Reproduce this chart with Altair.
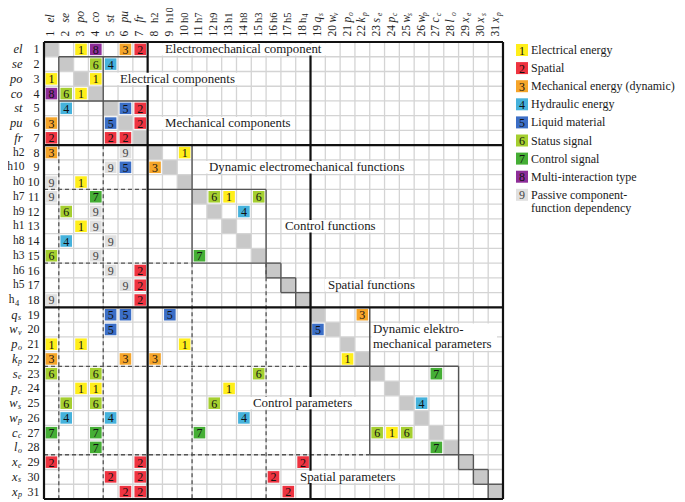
import altair as alt
import pandas as pd

# ---------------- data ----------------
row_main = ["el", "se", "po", "co", "st", "pu", "fr",
            "h2", "h10", "h0", "h7", "h9", "h1", "h8", "h3", "h6", "h5", "h",
            "q", "w", "p", "k", "s", "p", "w", "w", "c", "l", "x", "x", "x"]
row_sub = ["", "", "", "", "", "", "",
           "", "", "", "", "", "", "", "", "", "", "4",
           "s", "v", "o", "p", "e", "c", "s", "p", "c", "o", "e", "s", "p"]
row_italic = [True] * 7 + [False] * 11 + [True] * 13

cell_row = [1, 1, 1, 1, 2, 2, 3, 3, 4, 4, 4, 5, 5, 5, 6, 6, 6, 7, 7, 7,
            8, 8, 8, 9, 9, 9, 10, 10, 11, 11, 11, 11, 11, 12, 12, 12, 13, 13,
            14, 14, 15, 15, 15, 16, 16, 17, 17, 18, 18,
            19, 19, 19, 19, 20, 20, 21, 21, 21, 22, 22, 22, 22,
            23, 23, 23, 23, 24, 24, 24, 25, 25, 25, 25, 26, 26, 26,
            27, 27, 27, 27, 27, 27, 28, 28, 29, 29, 29, 30, 30, 30, 31, 31, 31]
cell_col = [3, 4, 6, 7, 4, 5, 1, 4, 1, 2, 3, 2, 6, 7, 1, 5, 7, 1, 5, 6,
            1, 6, 10, 5, 6, 8, 1, 3, 1, 4, 12, 13, 15, 2, 4, 14, 3, 4,
            2, 5, 1, 4, 11, 5, 7, 6, 7, 1, 7,
            5, 6, 9, 22, 5, 19, 1, 3, 10, 1, 6, 8, 21,
            1, 4, 15, 27, 3, 4, 13, 2, 4, 12, 26, 2, 5, 14,
            1, 4, 11, 23, 24, 25, 4, 27, 1, 7, 18, 5, 7, 16, 6, 7, 17]
cell_type = [1, 8, 3, 2, 6, 4, 1, 1, 8, 6, 1, 4, 5, 2, 3, 5, 2, 2, 2, 2,
             3, 9, 1, 9, 5, 3, 9, 1, 9, 7, 6, 1, 6, 6, 9, 4, 1, 9,
             4, 9, 6, 9, 7, 9, 2, 9, 2, 9, 2,
             5, 5, 5, 3, 5, 5, 1, 1, 1, 3, 3, 3, 1,
             6, 6, 6, 7, 1, 1, 1, 6, 6, 6, 4, 4, 4, 4,
             7, 7, 7, 6, 1, 6, 7, 7, 2, 2, 2, 2, 2, 2, 2, 2, 2]

type_codes = [1, 2, 3, 4, 5, 6, 7, 8, 9]
type_names = ["Electrical energy", "Spatial", "Mechanical energy (dynamic)",
              "Hydraulic energy", "Liquid material", "Status signal",
              "Control signal", "Multi-interaction type", "Passive  component-"]
type_names_line2 = ["", "", "", "", "", "", "", "", "function dependency"]
type_colors = ["#FFEE1A", "#EE3340", "#F5A52A", "#45B2DC", "#3B6EC6",
               "#A5CF30", "#45AE35", "#8E2D99", "#E0E0E0"]

block_labels = ["Electromechanical component", "Electrical components",
                "Mechanical components", "Dynamic electromechanical functions",
                "Control functions", "Spatial functions", "Dynamic elektro-",
                "mechanical parameters", "Control parameters", "Spatial parameters"]

# ---------------- layout helpers ----------------
N = 31
W, H = 459, 457
ux, uy = W / N, H / N
GX0, GY0 = 44, 42  # page position of grid origin
TOTAL_W = 669


def X(page_x):
    return (page_x - GX0) / ux + 0.5


def Y(page_y):
    return (page_y - GY0) / uy + 0.5


xs = alt.Scale(domain=[0.5, N + 0.5], nice=False, zero=False)
ys = alt.Scale(domain=[0.5, N + 0.5], nice=False, zero=False, reverse=True)
SERIF = "Liberation Serif"

diag_df = pd.DataFrame({"k": list(range(1, N + 1))})
diag_df["x1"] = diag_df.k - 0.5
diag_df["x2"] = diag_df.k + 0.5

gl = []
for b in range(N + 1):
    gl.append(dict(x=b + 0.5, x2=b + 0.5, y=0.5, y2=N + 0.5))
    gl.append(dict(x=0.5, x2=N + 0.5, y=b + 0.5, y2=b + 0.5))
grid_df = pd.DataFrame(gl)


def V(b, r1, r2):
    return dict(x=b + 0.5, x2=b + 0.5, y=r1 - 0.5, y2=r2 + 0.5)


def Hs(b, c1, c2):
    return dict(x=c1 - 0.5, x2=c2 + 0.5, y=b + 0.5, y2=b + 0.5)


thick_df = pd.DataFrame([V(0, 1, 31), V(7, 1, 31), V(18, 1, 31), V(31, 1, 31),
                         Hs(0, 1, 31), Hs(7, 1, 31), Hs(18, 1, 31), Hs(31, 1, 31)])
box = [V(1, 2, 7), V(4, 2, 7), Hs(1, 2, 7), Hs(4, 2, 7),
       V(10, 8, 10), Hs(10, 8, 10),
       V(10, 11, 15), V(15, 11, 15), Hs(10, 11, 15), Hs(15, 11, 15),
       V(22, 19, 22), Hs(22, 19, 22),
       V(22, 23, 28), V(28, 23, 28), Hs(22, 23, 28), Hs(28, 23, 28)]
for k in [16, 17, 18, 29, 30, 31]:
    box += [V(k - 1, k, k), V(k, k, k), Hs(k - 1, k, k), Hs(k, k, k)]
box_df = pd.DataFrame(box)
dash_df = pd.DataFrame([V(1, 8, 31), V(4, 8, 31), V(10, 16, 31), V(15, 16, 31),
                        Hs(10, 1, 7), Hs(15, 1, 10), Hs(22, 1, 18), Hs(28, 1, 22)])

cells = pd.DataFrame({"r": cell_row, "c": cell_col, "t": cell_type})
cmap = dict(zip(type_codes, type_colors))
cells["fill"] = cells.t.map(cmap)
cells["tc"] = cells.t.map(lambda v: "#444444" if v == 9 else "#111111")
cells["x1"] = cells.c - 0.5
cells["x2"] = cells.c + 0.5
cells["y1"] = cells.r - 0.5
cells["y2"] = cells.r + 0.5
cells["lab"] = cells.t.astype(str)

ann_left = [165, 120, 165, 209, 285, 328, 373, 373, 253, 300]
ann_row = [1, 3, 6, 9, 13, 17, 20, 21, 25, 30]
ann_df = pd.DataFrame({"label": block_labels, "x": [X(v) for v in ann_left], "y": ann_row})
bg_df = pd.DataFrame({
    "x1": [X(v) for v in [160, 117, 161, 206, 282, 325, 371.5, 250, 297]],
    "x2": [X(v) for v in [326, 239, 293, 408, 381, 421, 497, 358, 403]],
    "y1": [0.58, 2.58, 5.58, 8.58, 12.58, 16.58, 19.6, 24.58, 29.58],
    "y2": [1.42, 3.42, 6.42, 9.42, 13.42, 17.42, 21.45, 25.42, 30.42],
})

rows = pd.DataFrame({"r": list(range(1, N + 1)), "main": row_main, "sub": row_sub,
                     "it": row_italic})
rows["num"] = rows.r.astype(str)
rows_it_plain = rows[(rows["sub"] == "") & rows["it"]]
rows_ro_plain = rows[(rows["sub"] == "") & ~rows["it"]]
rows_it_sub = rows[(rows["sub"] != "") & rows["it"]]
rows_ro_sub = rows[(rows["sub"] != "") & ~rows["it"]]

leg_df = pd.DataFrame({"code": [str(v) for v in type_codes], "name": type_names,
                       "fill": type_colors})
leg_df["yc"] = [Y(50 + i * 18.1) for i in range(9)]
leg_df["x1"] = X(516)
leg_df["x2"] = X(528)
leg_df["xc"] = X(522)
leg_df["xt"] = X(531)
leg_df["y1"] = leg_df.yc - 6 / uy
leg_df["y2"] = leg_df.yc + 6 / uy
leg_df["tc"] = ["#444444" if v == 9 else "#111111" for v in type_codes]
leg2_df = pd.DataFrame({"name": [t for t in type_names_line2 if t],
                        "xt": [X(531)], "yc": [Y(50 + 8 * 18.1 + 13.3)]})


def enc_rect(ch):
    return ch.encode(x=alt.X("x1:Q", scale=xs, axis=None), x2="x2:Q",
                     y=alt.Y("y1:Q", scale=ys, axis=None), y2="y2:Q")


def enc_rule(ch):
    return ch.encode(x=alt.X("x:Q", scale=xs, axis=None), x2="x2:Q",
                     y=alt.Y("y:Q", scale=ys, axis=None), y2="y2:Q")


diag_l = alt.Chart(diag_df).mark_rect(color="#C8C8C8").encode(
    x=alt.X("x1:Q", scale=xs, axis=None), x2="x2:Q",
    y=alt.Y("x1:Q", scale=ys, axis=None), y2="x2:Q")
grid_l = enc_rule(alt.Chart(grid_df).mark_rule(color="#D4D4D4", strokeWidth=1.3))
cell_l = enc_rect(alt.Chart(cells).mark_rect(xOffset=1.6, x2Offset=-1.6,
                                             yOffset=1.6, y2Offset=-1.6)).encode(
    fill=alt.Fill("fill:N", scale=None))
cell_t = alt.Chart(cells).mark_text(font=SERIF, fontSize=12, baseline="middle",
                                    dy=0.5).encode(
    x=alt.X("c:Q", scale=xs, axis=None), y=alt.Y("r:Q", scale=ys, axis=None),
    text="lab:N", color=alt.Color("tc:N", scale=None))
dash_l = enc_rule(alt.Chart(dash_df).mark_rule(color="#555555", strokeWidth=1.3,
                                               strokeDash=[4, 3]))
box_l = enc_rule(alt.Chart(box_df).mark_rule(color="#555555", strokeWidth=1.4))
thick_l = enc_rule(alt.Chart(thick_df).mark_rule(color="#111111", strokeWidth=2.2))
bg_l = enc_rect(alt.Chart(bg_df).mark_rect(color="white"))
ann_t = alt.Chart(ann_df).mark_text(font=SERIF, fontSize=12.9, align="left",
                                    baseline="middle", color="#1a1a1a").encode(
    x=alt.X("x:Q", scale=xs, axis=None), y=alt.Y("y:Q", scale=ys, axis=None),
    text="label:N")


def row_text(df, field, xpx, align, italic, size=12.5, dy=0, color="#222222"):
    return alt.Chart(df).mark_text(font=SERIF, fontSize=size, align=align,
                                   baseline="middle", dy=dy, color=color,
                                   fontStyle="italic" if italic else "normal").encode(
        x=alt.value(xpx), y=alt.Y("r:Q", scale=ys, axis=None), text=f"{field}:N")


row_layers = [
    row_text(rows, "num", -4.5, "right", False, 12),
    row_text(rows_it_plain, "main", -21.5, "right", True, 12.5),
    row_text(rows_ro_plain, "main", -19.5, "right", False, 11.5),
    row_text(rows_it_sub, "main", -26.5, "right", True, 12.5),
    row_text(rows_it_sub, "sub", -26, "left", True, 8, 3.5),
    row_text(rows_ro_sub, "main", -29.5, "right", False, 11.5),
    row_text(rows_ro_sub, "sub", -29, "left", False, 8.5, 3.5),
]


def col_text(df, field, ypx, italic, size=12, dx=0, dy=0):
    return alt.Chart(df).mark_text(font=SERIF, fontSize=size, align="left",
                                   baseline="middle", angle=270, dx=dx, dy=dy,
                                   color="#222222",
                                   fontStyle="italic" if italic else "normal").encode(
        x=alt.X("r:Q", scale=xs, axis=None), y=alt.value(ypx), text=f"{field}:N")


col_layers = [
    col_text(rows, "num", -5.5, False, 11.5),
    col_text(rows_it_plain, "main", -19.5, True, 11.5),
    col_text(rows_ro_plain, "main", -19, False, 10.5),
    col_text(rows_it_sub, "main", -19.5, True, 11.5),
    col_text(rows_it_sub, "sub", -19.5, True, 7.5, 6.5, 3),
    col_text(rows_ro_sub, "main", -19, False, 10.5),
    col_text(rows_ro_sub, "sub", -19, False, 8, 5.5, 3),
]

leg_rect = enc_rect(alt.Chart(leg_df).mark_rect()).encode(fill=alt.Fill("fill:N", scale=None))
leg_num = alt.Chart(leg_df).mark_text(font=SERIF, fontSize=12, baseline="middle",
                                      dy=0.5).encode(
    x=alt.X("xc:Q", scale=xs, axis=None), y=alt.Y("yc:Q", scale=ys, axis=None),
    text="code:N", color=alt.Color("tc:N", scale=None))
leg_txt = alt.Chart(leg_df).mark_text(font=SERIF, fontSize=12, align="left",
                                      baseline="middle", color="#1a1a1a").encode(
    x=alt.X("xt:Q", scale=xs, axis=None), y=alt.Y("yc:Q", scale=ys, axis=None),
    text="name:N")
leg_txt2 = alt.Chart(leg2_df).mark_text(font=SERIF, fontSize=12, align="left",
                                        baseline="middle", color="#1a1a1a").encode(
    x=alt.X("xt:Q", scale=xs, axis=None), y=alt.Y("yc:Q", scale=ys, axis=None),
    text="name:N")

chart = alt.layer(
    diag_l, grid_l, cell_l, cell_t, dash_l, box_l, thick_l, bg_l, ann_t,
    *row_layers, *col_layers, leg_rect, leg_num, leg_txt, leg_txt2
).properties(
    width=W, height=H,
    padding={"left": GX0 - 8, "top": GY0 - 8, "right": TOTAL_W - (GX0 - 8) - W, "bottom": 2},
    autosize=alt.AutoSizeParams(type="none"),
).configure_view(stroke=None)

chart.save("out.html", embed_options={"renderer": "svg", "actions": False})
